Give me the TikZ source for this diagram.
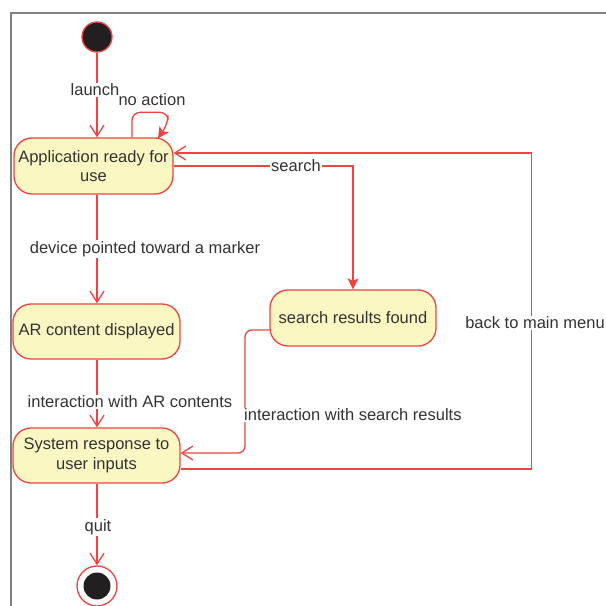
\documentclass[tikz,border=0pt]{standalone}
\usepackage{fontspec}
\setmainfont{Liberation Sans}
\usetikzlibrary{arrows.meta}
\definecolor{ln}{HTML}{EE4444}
\definecolor{fl}{HTML}{FAF7C3}
\definecolor{tx}{HTML}{333333}
\definecolor{fr}{HTML}{808080}
\definecolor{blk}{HTML}{231F20}
\begin{document}
\begin{tikzpicture}[x=1bp,y=-1bp,
  state/.style={draw=ln, fill=fl, line width=1.3bp, rounded corners=18bp, align=center,
    text=tx, font=\fontsize{16.5bp}{19.5bp}\selectfont, inner sep=0pt},
  lbl/.style={text=tx, font=\fontsize{16.5bp}{19.5bp}\selectfont, fill=white, inner sep=1bp},
  edge/.style={draw=ln, line width=1.3bp},
  openarr/.style={edge, -{Straight Barb[length=11bp,width=14bp,line width=1.3bp]}},
  fillarr/.style={edge, -{Stealth[length=11bp,width=11bp,inset=2.5bp]}}]
\useasboundingbox (0,0) rectangle (606,606);
% frame
\draw[fr, line width=1.5bp] (11,606) -- (11,13) -- (606,13);

% nodes
\node[circle, draw=ln, fill=blk, line width=1.3bp, minimum size=30bp, inner sep=0pt] (init) at (97,37) {};
\node[state, minimum width=159bp, minimum height=56bp] (A) at (93.5,166) {Application ready for\\use};
\node[state, minimum width=167bp, minimum height=55bp] (B) at (96.5,331.5) {AR content displayed};
\node[state, minimum width=166bp, minimum height=56bp] (S) at (353,318) {search results found};
\node[state, minimum width=167bp, minimum height=55bp] (C) at (96.5,455.5) {System response to\\user inputs};
\node[circle, draw=ln, fill=white, line width=1.3bp, minimum size=40bp, inner sep=0pt] (fin) at (97,586) {};
\node[circle, fill=blk, minimum size=27bp, inner sep=0pt] (finin) at (fin.center) {};

% edges
\draw[openarr] (init) -- (A.north -| init);
\node[lbl] (l1) at (95,90) {launch};
\draw[fillarr, rounded corners=8bp] ([xshift=38.5bp]A.north) -- ++(0,-25) -- ++(36,0) -- ++(0,11) -- ([xshift=64.5bp,yshift=-1bp]A.north);
\node[text=tx, font=\fontsize{16.5bp}{19.5bp}\selectfont, inner sep=0pt] (l2) at (152,100) {no action};
\draw[openarr] (A.south -| init) -- (B.north -| init);
\node[lbl] (l3) at (145,249) {device pointed toward a marker};
\draw[fillarr] (A.east) -| (S.north);
\node[lbl] (l4) at (296,166) {search};
\draw[openarr] (B.south -| init) -- (C.north -| init);
\node[lbl] (l5) at (130,402) {interaction with AR contents};
\draw[openarr, rounded corners=7bp] ([yshift=-12bp]S.west) -| (245,420) |- ([yshift=2.5bp]C.east);
\node[lbl, anchor=west] (l6) at (243,415) {interaction with search results};
\draw[openarr] ([yshift=-13.5bp]C.east) -- ++(351,0) |- ([yshift=13bp]A.east);
\node[lbl] (l7) at (535,323) {back to main menu};
\draw[openarr] (C.south -| init) -- (fin.north);
\node[lbl] (l8) at (98,527) {quit};
\end{tikzpicture}
\end{document}
